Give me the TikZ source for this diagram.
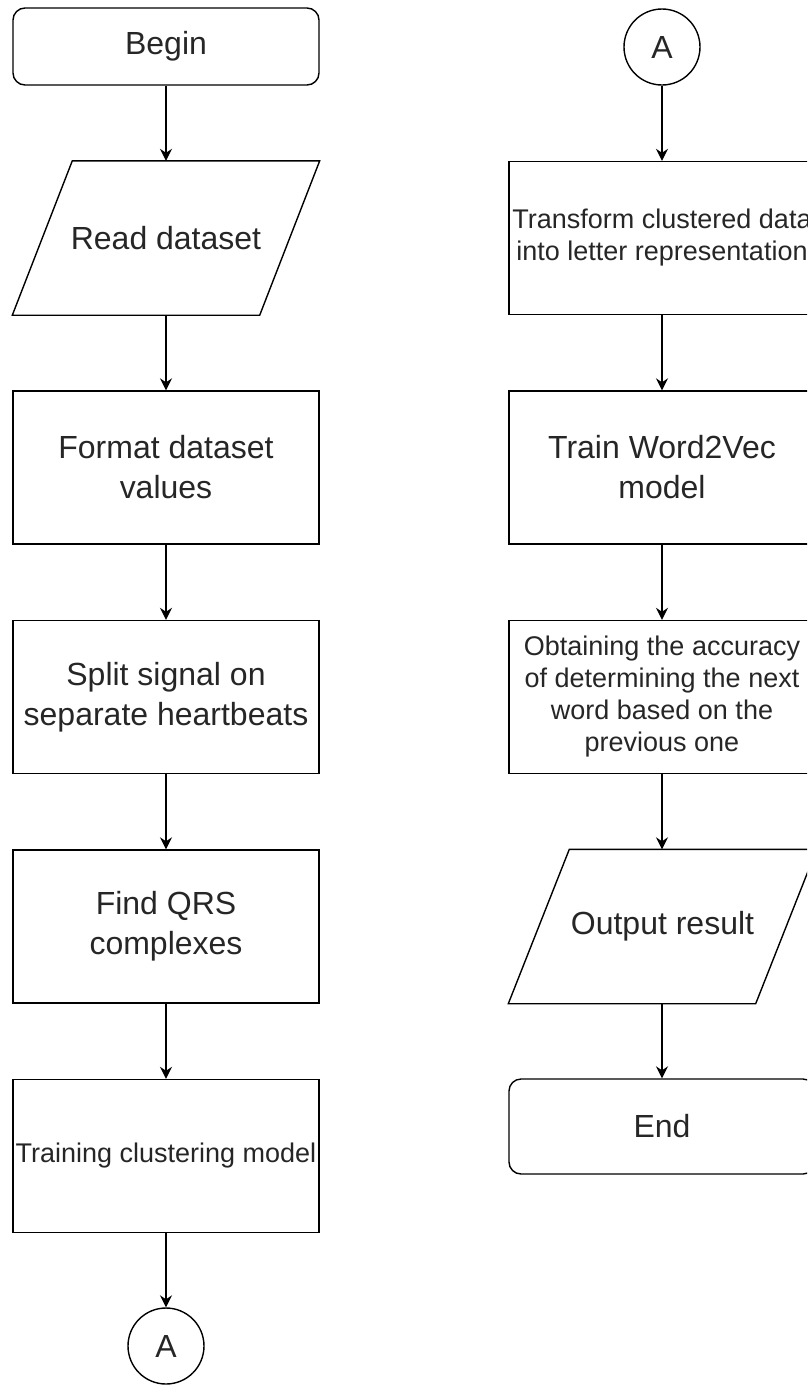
\documentclass[tikz,border=0pt]{standalone}
\usepackage{fontspec}
\setmainfont{Liberation Sans}
\usetikzlibrary{arrows.meta}
\begin{document}
\begin{tikzpicture}[x=1pt,y=-1pt,
  box/.style={draw, line width=1.4pt, minimum width=306pt, minimum height=153pt, inner sep=0pt, align=center, font=\fontsize{32}{40}\selectfont, text=black!85},
  small/.style={font=\fontsize{27}{32}\selectfont},
  term/.style={box, rounded corners=12pt},
  io/.style={box, draw=none, minimum width=246pt},
  conn/.style={draw, circle, line width=1.4pt, minimum size=76pt, inner sep=0pt, font=\fontsize{32}{40}\selectfont, text=black!85},
  arr/.style={line width=1.3pt, -{Stealth[length=12pt,width=12pt,inset=4pt]}},
  para/.style={line width=1.4pt}
]
\useasboundingbox (0,0) rectangle (807,1385);
\clip (0,0) rectangle (807,1385);

% left column
\node[term, minimum height=77pt] (begin) at (166,46.5) {Begin};
\node[io] (read) at (166,238) {Read dataset};
\draw[para] ([xshift=30pt]read.north west) -- ([xshift=30pt]read.north east) -- ([xshift=-30pt]read.south east) -- ([xshift=-30pt]read.south west) -- cycle;
\node[box] (format) at (166,467.5) {Format dataset\\values};
\node[box] (split) at (166,697) {Split signal on\\separate heartbeats};
\node[box] (qrs) at (166,926.5) {Find QRS\\complexes};
\node[box, small] (train) at (166,1156) {Training clustering model};
\node[conn] (a1) at (166,1346) {A};

% right column
\node[conn] (a2) at (662,47) {A};
\node[box, small] (transform) at (662,238) {Transform clustered data\\into letter representation};
\node[box] (w2v) at (662,467.5) {Train Word2Vec\\model};
\node[box, small] (acc) at (662,697) {Obtaining the accuracy\\of determining the next\\word based on the\\previous one};
\node[io] (out) at (662.5,926.5) {Output result};
\draw[para] ([xshift=30.5pt]out.north west) -- ([xshift=30.5pt]out.north east) -- ([xshift=-30.5pt]out.south east) -- ([xshift=-30.5pt]out.south west) -- cycle;
\node[term, minimum height=95pt] (end) at (662,1126.5) {End};

% connectors
\draw[arr] (begin) -- (read);
\draw[arr] (read) -- (format);
\draw[arr] (format) -- (split);
\draw[arr] (split) -- (qrs);
\draw[arr] (qrs) -- (train);
\draw[arr] (train) -- (a1);
\draw[arr] (a2) -- (transform);
\draw[arr] (transform) -- (w2v);
\draw[arr] (w2v) -- (acc);
\draw[arr] (acc) -- (out.north -| acc.south);
\draw[arr] (out.south -| end.north) -- (end);
\end{tikzpicture}
\end{document}
